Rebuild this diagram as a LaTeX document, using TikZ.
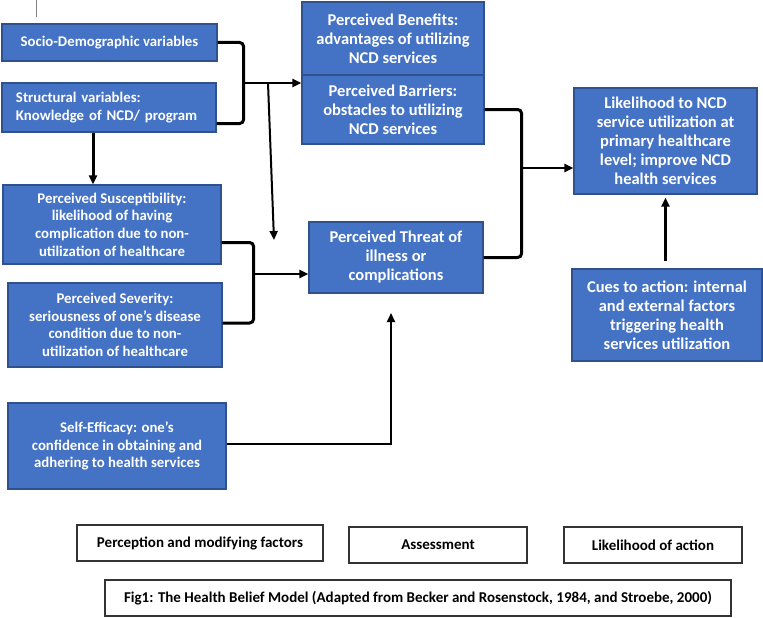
\documentclass[tikz,border=0pt]{standalone}
\usepackage{fontspec}
\setmainfont{Carlito}
\usepackage{tikz}
\usetikzlibrary{arrows.meta}
\definecolor{hbmblue}{HTML}{4472C4}
\definecolor{hbmedge}{HTML}{2F528F}
\tikzset{
    hbox/.style = {draw = hbmedge, line width = 1.2pt, fill = hbmblue, text = white, align = center, inner sep = 2pt, font = \bfseries\fontsize{14.8}{17.6}\selectfont},
    bigbox/.style = {hbox, font = \bfseries\fontsize{16.5}{19}\selectfont},
    legend/.style = {draw = black!80, line width = 1.3pt, fill = white, inner sep = 2pt, font = \bfseries\fontsize{15}{17}\selectfont},
    brace/.style = {line width = 3pt, rounded corners = 4pt},
    arr/.style = {line width = 2pt, -{Triangle[length = 9pt, width = 8pt]}}
}

\begin{document}
\begin{tikzpicture}[x = 1pt, y = -1pt]
        \useasboundingbox (0, 0) rectangle (763, 618);
        \draw [gray, line width = 1pt] (36, 0) -- (36, 17);
        \node [hbox, minimum width = 215pt, minimum height = 37pt] (socio) at (109.5, 42.5) {Socio-Demographic variables};
        \node [hbox, align = left, text width = 186pt, minimum width = 214pt, minimum height = 49pt] (struct) at (109, 107.5) {Structural variables:\\ Knowledge of NCD/ program};
        \node [hbox, minimum width = 218pt, minimum height = 79pt] (suscept) at (112, 224.5) {Perceived Susceptibility:\\ likelihood of having\\ complication due to non-\\ utilization of healthcare};
        \node [hbox, minimum width = 214pt, minimum height = 84pt] (severity) at (115, 325) {Perceived Severity:\\ seriousness of one’s disease\\ condition due to non-\\ utilization of healthcare};
        \node [hbox, minimum width = 218pt, minimum height = 86pt] (selfeff) at (117, 446) {Self-Efficacy: one’s\\ confidence in obtaining and\\ adhering to health services};
        \node [bigbox, minimum width = 182pt, minimum height = 73pt] (benefits) at (393, 38.5) {Perceived Benefits:\\ advantages of utilizing\\ NCD services};
        \node [bigbox, minimum width = 182pt, minimum height = 69pt] (barriers) at (393, 109.5) {Perceived Barriers:\\ obstacles to utilizing\\ NCD services};
        \node [bigbox, minimum width = 174pt, minimum height = 71pt] (threat) at (396, 257.5) {Perceived Threat of\\ illness or\\ complications};
        \node [bigbox, minimum width = 183pt, minimum height = 106pt] (likely) at (665.5, 141) {Likelihood to NCD\\ service utilization at\\ primary healthcare\\ level; improve NCD\\ health services};
        \node [bigbox, minimum width = 190pt, minimum height = 92pt] (cues) at (667, 315) {Cues to action: internal\\ and external factors\\ triggering health\\ services utilization};

        % legend
        \node [legend, minimum width = 246pt, minimum height = 36pt] (percep) at (200, 543) {Perception and modifying factors};
        \node [legend, minimum width = 178pt, minimum height = 36pt] (assess) at (438, 545) {Assessment};
        \node [legend, minimum width = 178pt, minimum height = 36pt] (likeact) at (653, 545) {Likelihood of action};
        \node [legend, minimum width = 626pt, minimum height = 36pt] (figcap) at (418, 598) {Fig1: The Health Belief Model (Adapted from Becker and Rosenstock, 1984, and Stroebe, 2000)};

        % connectors
        \draw [brace] (socio.east) -- ++(26, 0) |- ([yshift = -16pt]struct.east);
        \coordinate (b1) at (243, 83);
        \draw [arr] (b1) -- (barriers.west |- b1);
        \coordinate (d1) at (268, 83);
        \coordinate (d2) at (274, 240);
        \draw [arr] (d1) -- (d2);
        \draw [arr, line width = 3pt] ([xshift = -16pt]struct.south) -- ([xshift = -16pt]struct.south |- suscept.north);
        \draw [brace] ([yshift = -18pt]suscept.east) -- ++(32, 0) |- ([yshift = 2pt]severity.east);
        \coordinate (b2) at (253, 274);
        \draw [arr] (b2) -- (threat.west |- b2);
        \draw [brace] (barriers.east) -- ++(37, 0) |- (threat.east);
        \coordinate (b3) at (521, 168);
        \draw [arr] (b3) -- (likely.west |- b3);
        \coordinate (se) at (391, 313);
        \draw [arr] ([yshift = 2pt]selfeff.east) -| (se);
        \draw [arr, line width = 3pt, shorten < = 7pt, shorten > = 3pt] (cues.north -| likely.south) -- (likely.south);
    \end{tikzpicture}
\end{document}
